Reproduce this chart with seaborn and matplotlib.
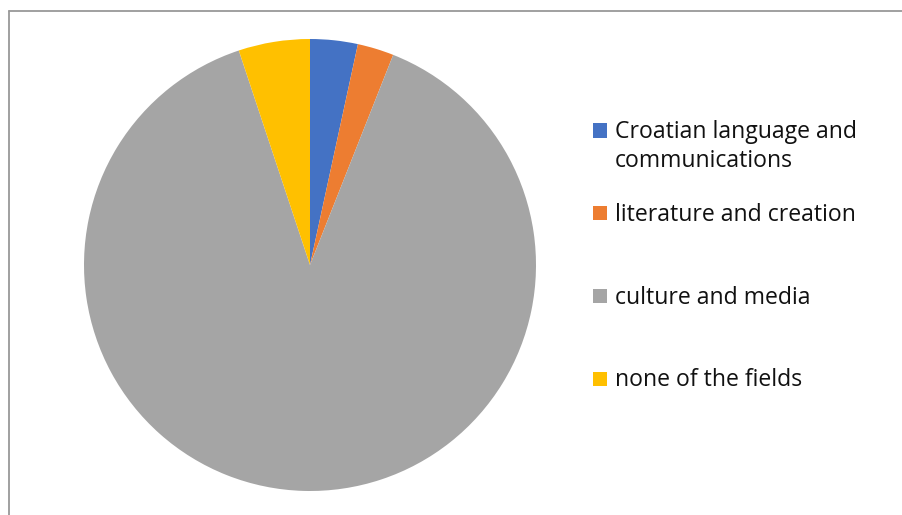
import matplotlib
matplotlib.use("Agg")
import matplotlib.pyplot as plt
import seaborn as sns
from matplotlib.lines import Line2D
from matplotlib.patches import Rectangle

categories = ["Croatian language and communications", "literature and creation",
              "culture and media", "none of the fields"]
legend_labels = ["Croatian language and\ncommunications", "literature and creation",
                 "culture and media", "none of the fields"]
shares = [3.4, 2.6, 88.9, 5.1]
colors = ["#4472C4", "#ED7D31", "#A5A5A5", "#FFC000"]

sns.set_theme(style="white")
plt.rcParams["font.family"] = ["Open Sans", "DejaVu Sans"]

W, H = 903, 515
fig = plt.figure(figsize=(W / 100, H / 100), dpi=100)
fig.patch.set_facecolor("white")

cx, cy, r = 310, 265, 226
ax = fig.add_axes([(cx - r) / W, (H - cy - r) / H, 2 * r / W, 2 * r / H])
ax.pie(shares, colors=colors, startangle=90, counterclock=False, radius=1,
       wedgeprops=dict(linewidth=0))
ax.set_xlim(-1, 1)
ax.set_ylim(-1, 1)
ax.set_aspect("equal")
ax.axis("off")

# border
fig.add_artist(Line2D([8.5 / W, 1.0], [1 - 10.5 / H] * 2, transform=fig.transFigure,
                      color="#999999", lw=1.3))
fig.add_artist(Line2D([8.5 / W] * 2, [0, 1 - 10.5 / H], transform=fig.transFigure,
                      color="#999999", lw=1.3))

# legend
baselines = [138, 220.5, 303.5, 386.5]
line_gap = 29
for lab, col, yb in zip(legend_labels, colors, baselines):
    fig.add_artist(Rectangle((593 / W, 1 - (yb - 0.5) / H), 14.5 / W, 14.5 / H,
                             transform=fig.transFigure, facecolor=col, edgecolor="none"))
    for i, line in enumerate(lab.split("\n")):
        fig.text(615 / W, 1 - (yb + i * line_gap) / H, line, ha="left", va="baseline",
                 fontsize=16.6, color="#111111")

fig.savefig("out.png", dpi=100)
